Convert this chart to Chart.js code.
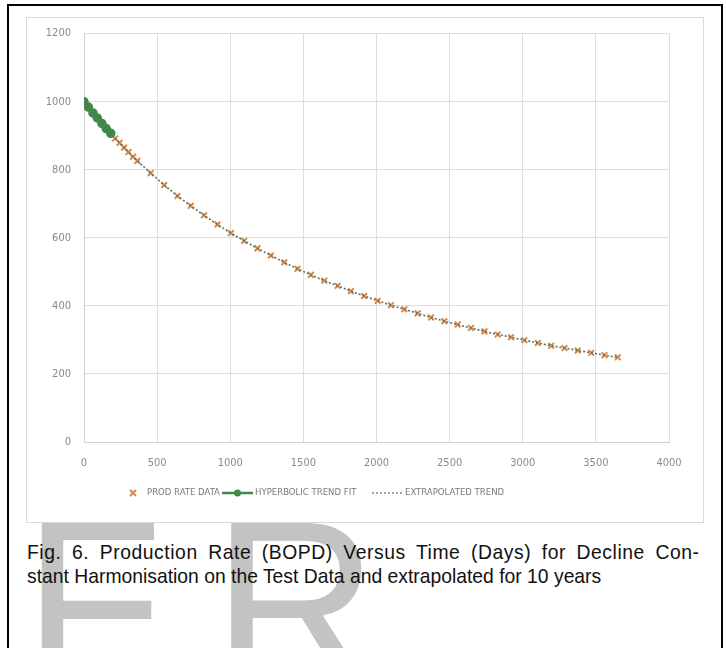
<!DOCTYPE html>
<html>
<head>
<meta charset="utf-8">
<script src="https://cdn.jsdelivr.net/npm/chart.js@4.4.1/dist/chart.umd.min.js"></script>
<style>
  html, body { margin:0; padding:0; background:#fff; width:726px; height:648px; overflow:hidden; }
  #frame { position:absolute; left:7px; top:4px; width:712px; height:720px; border:2px solid #000; box-sizing:content-box; }
  #wm { position:absolute; left:23px; top:487px; font-family:"Liberation Sans", Arial, sans-serif; font-size:270px; letter-spacing:58px; color:#c3c3c3; line-height:1; white-space:nowrap; transform:scale(0.85,0.87); transform-origin:0 0; }
  #box { position:absolute; left:26px; top:17px; width:676px; height:504px; border:1px solid #d9d9d9; background:#fff; }
  #box canvas { position:absolute; left:0; top:-4px; display:block; }
  #cap { position:absolute; left:27px; top:540px; font-family:"Liberation Sans", Arial, sans-serif; font-size:21px; line-height:24px; color:#111; transform:scaleX(0.92); transform-origin:0 0; }
  #cap .l1 { width:731px; text-align:justify; text-align-last:justify; white-space:nowrap; letter-spacing:0.6px; }
  #cap .l2 { white-space:nowrap; }
</style>
</head>
<body>
<div id="wm">FR</div>
<div id="frame"></div>
<div id="box"><canvas id="c" width="676" height="508"></canvas></div>
<div id="cap"><div class="l1">Fig. 6. Production Rate (BOPD) Versus Time (Days) for Decline Con-</div><div class="l2">stant Harmonisation on the Test Data and extrapolated for 10 years</div></div>
<script>
// ---- data ----
const days = [0,30,61,91,122,152,183,213,243,274,304,335,365,456,548,639,730,821,913,1004,1095,1186,1278,1369,1460,1551,1643,1734,1825,1916,2008,2099,2190,2281,2373,2464,2555,2646,2738,2829,2920,3011,3103,3194,3285,3376,3468,3559,3650];
const prodRate = [1000,984,967,952,936,921,907,892,879,865,852,838,826,790,755,723,694,666,639,614,591,569,548,528,509,491,474,459,443,429,415,402,390,378,366,355,345,335,325,316,308,299,291,283,276,269,262,255,249];
const fitDays = [0,30,61,91,122,152,183];
const fitRate = [1000,984,967,952,936,921,907];
const trendDays = days;
const trendRate = [1000,984,967,952,936,921,907,892,879,865,852,838,826,790,755,723,694,666,639,614,591,569,548,528,509,491,474,459,443,429,415,402,390,378,366,355,345,335,325,316,308,299,291,283,276,269,262,255,249];
const yTicks = [0,200,400,600,800,1000,1200];
const xTicks = [0,500,1000,1500,2000,2500,3000,3500,4000];
const seriesNames = ["PROD RATE DATA","HYPERBOLIC TREND FIT","EXTRAPOLATED TREND"];

const ORANGE = '#D8884C', GREEN = '#3F8A45', DOT = '#557565', DOTLEG = '#6a9a86';
const TICKFONT = '"Liberation Sans Narrow","DejaVu Sans Condensed",sans-serif';

const toXY = (xs, ys) => xs.map((x, i) => ({ x: x, y: ys[i] }));

// legend drawn below the x axis, series names taken from seriesNames
const refLegend = {
  id: 'refLegend',
  afterDraw(chart) {
    const ctx = chart.ctx;
    const y = chart.chartArea.bottom + 51;
    ctx.save();
    ctx.font = '9.5px ' + TICKFONT;
    ctx.fillStyle = '#7a7a7a';
    ctx.textBaseline = 'middle';
    ctx.strokeStyle = ORANGE; ctx.lineWidth = 2;
    ctx.beginPath(); ctx.moveTo(103, y-3); ctx.lineTo(109, y+3); ctx.moveTo(109, y-3); ctx.lineTo(103, y+3); ctx.stroke();
    ctx.fillText(seriesNames[0], 120, y);
    ctx.strokeStyle = GREEN; ctx.lineWidth = 2.5;
    ctx.beginPath(); ctx.moveTo(195, y); ctx.lineTo(226, y); ctx.stroke();
    ctx.fillStyle = GREEN; ctx.beginPath(); ctx.arc(210.5, y, 3.5, 0, Math.PI*2); ctx.fill();
    ctx.fillStyle = '#7a7a7a';
    ctx.fillText(seriesNames[1], 228, y);
    ctx.strokeStyle = DOTLEG; ctx.lineWidth = 1.5; ctx.setLineDash([2,2]);
    ctx.beginPath(); ctx.moveTo(345, y); ctx.lineTo(375, y); ctx.stroke();
    ctx.setLineDash([]);
    ctx.fillText(seriesNames[2], 378, y);
    ctx.restore();
  }
};

new Chart(document.getElementById('c'), {
  type: 'scatter',
  data: {
    datasets: [
      { label: seriesNames[2], data: toXY(trendDays, trendRate), showLine: true, borderColor: DOT, borderWidth: 1.6, borderDash: [2,2], pointRadius: 0, order: 0 },
      { label: seriesNames[1], data: toXY(fitDays, fitRate), showLine: true, borderColor: GREEN, backgroundColor: GREEN, borderWidth: 2.5, pointRadius: 3.5, pointStyle: 'circle', order: 1 },
      { label: seriesNames[0], data: toXY(days, prodRate), showLine: false, borderColor: ORANGE, backgroundColor: ORANGE, borderWidth: 2, pointRadius: 4, pointStyle: 'crossRot', order: 2 }
    ]
  },
  plugins: [refLegend],
  options: {
    responsive: false, animation: false, devicePixelRatio: 1,
    layout: { padding: { left: 0, right: 34, top: 0, bottom: 50 } },
    plugins: {
      tooltip: { enabled: false },
      legend: { display: false }
    },
    scales: {
      x: {
        type: 'linear', min: 0, max: 4000,
        afterBuildTicks: s => { s.ticks = xTicks.map(v => ({ value: v })); },
        afterFit: s => { s.height = 30; },
        grid: { color: '#dedede', drawTicks: false },
        border: { color: '#d0d0d0' },
        ticks: { padding: 15, color: '#8a8a8a', font: { family: TICKFONT, size: 11 }, callback: v => String(v) }
      },
      y: {
        type: 'linear', min: 0, max: 1200,
        afterBuildTicks: s => { s.ticks = yTicks.map(v => ({ value: v })); },
        afterFit: s => { s.width = 57; },
        grid: { color: '#dedede', drawTicks: false },
        border: { color: '#d0d0d0' },
        ticks: { padding: 13, color: '#8a8a8a', font: { family: TICKFONT, size: 11 }, callback: v => String(v) }
      }
    }
  }
});
</script>
</body>
</html>
